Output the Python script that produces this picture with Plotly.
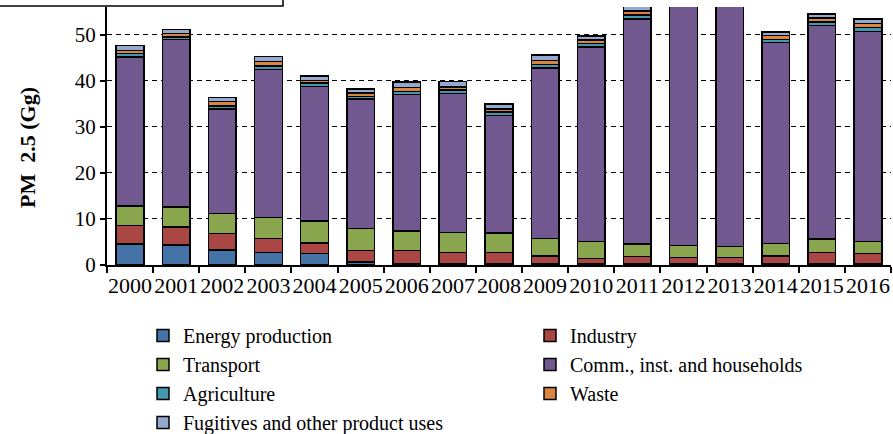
import plotly.graph_objects as go

years = [str(y) for y in range(2000, 2017)]

energy = [4.6, 4.3, 3.25, 2.75, 2.5, 0.7, 0.3, 0.3, 0.3, 0.3, 0.3, 0.3, 0.3, 0.3, 0.3, 0.3, 0.3]
industry = [4.0, 3.9, 3.6, 3.05, 2.3, 2.4, 2.8, 2.4, 2.4, 1.7, 1.15, 1.5, 1.3, 1.3, 1.7, 2.4, 2.2]
transport = [4.2, 4.4, 4.3, 4.5, 4.8, 4.8, 4.3, 4.4, 4.2, 3.8, 3.6, 2.75, 2.6, 2.4, 2.7, 2.9, 2.55]
comm = [32.3, 36.3, 22.7, 32.1, 29.1, 28.1, 29.6, 30.1, 25.6, 37.0, 42.3, 48.9, 52.7, 54.0, 43.6, 46.4, 45.65]
agriculture = [0.8, 0.6, 0.7, 0.8, 0.8, 0.6, 0.7, 0.8, 0.7, 0.7, 0.7, 0.8, 0.8, 0.8, 0.6, 0.7, 0.8]
waste = [0.7, 0.8, 0.9, 1.0, 0.6, 0.7, 0.8, 0.6, 0.7, 0.9, 0.8, 0.9, 0.9, 0.9, 0.9, 0.9, 0.9]
fugitives = [1.0, 0.8, 0.9, 1.1, 0.9, 0.9, 1.2, 1.2, 1.0, 1.2, 0.9, 1.1, 1.0, 1.0, 0.8, 0.9, 1.0]

series = [
    ("Energy production", energy, "#4572A7", "legend"),
    ("Industry", industry, "#AA4643", "legend2"),
    ("Transport", transport, "#89A54E", "legend"),
    ("Comm., inst. and households", comm, "#71588F", "legend2"),
    ("Agriculture", agriculture, "#4198AF", "legend"),
    ("Waste", waste, "#DB843D", "legend2"),
    ("Fugitives and other product uses", fugitives, "#93A9CF", "legend"),
]

FONT = "Liberation Serif"

fig = go.Figure()
for name, vals, color, leg in series:
    fig.add_trace(go.Bar(
        x=years, y=vals, name=name, legend=leg, cliponaxis=False,
        marker=dict(color=color, line=dict(color="black", width=1.5)),
    ))

L, T, W, H = 107, 7, 784, 258
LEG_TOP = 316
fig.update_layout(
    width=893, height=434,
    margin=dict(l=L, r=893 - L - W, t=T, b=434 - T - H, autoexpand=False),
    barmode="stack", bargap=0.4,
    plot_bgcolor="white", paper_bgcolor="white",
    font=dict(family=FONT, size=20, color="black"),
    showlegend=True,
    legend=dict(x=(143 - L) / W, xanchor="left", y=(265 - LEG_TOP) / H, yanchor="top",
                orientation="v", font=dict(size=20, family=FONT), bgcolor="rgba(0,0,0,0)",
                traceorder="normal"),
    legend2=dict(x=(530 - L) / W, xanchor="left", y=(265 - LEG_TOP) / H, yanchor="top",
                 orientation="v", font=dict(size=20, family=FONT), bgcolor="rgba(0,0,0,0)",
                 traceorder="normal"),
    xaxis=dict(showline=True, linecolor="black", linewidth=2, ticks="outside",
               tickson="boundaries", ticklen=6, tickwidth=2, tickcolor="black",
               tickangle=0, automargin=False,
               tickfont=dict(size=22, family=FONT), showgrid=False),
    yaxis=dict(range=[0, 56], dtick=10, showline=True, linecolor="black", linewidth=2,
               ticks="outside", ticklen=5, tickwidth=1.5, tickcolor="black", automargin=False,
               tickfont=dict(size=21, family=FONT), showgrid=True, gridcolor="black",
               gridwidth=1, griddash="5px,4px", zeroline=False),
    shapes=[dict(type="rect", xref="paper", yref="paper",
                 x0=-0.2, x1=(283 - L) / W, y0=(265 - 6) / H, y1=1.2,
                 line=dict(color="black", width=1.5), fillcolor="rgba(0,0,0,0)")],
    annotations=[dict(text="<b>PM  2.5 (Gg)</b>", xref="paper", yref="paper",
                      x=(27 - L) / W, y=(265 - 148) / H, textangle=-90, showarrow=False,
                      font=dict(size=22, family=FONT), xanchor="center", yanchor="middle")],
)

fig.write_html("out.html")
